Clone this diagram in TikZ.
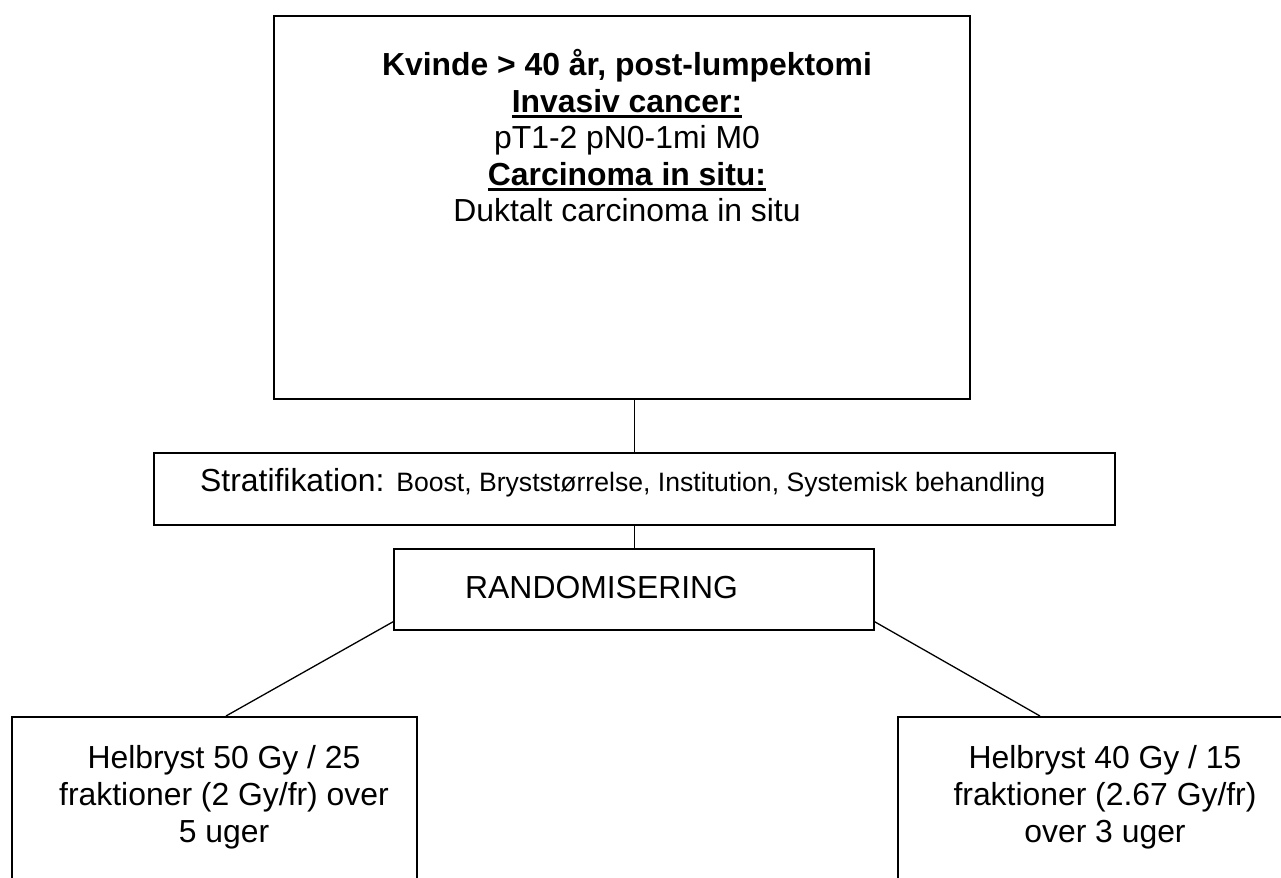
\documentclass[tikz,border=0pt]{standalone}
\usepackage{fontspec}
\setmainfont{Liberation Sans}
\newcommand\myul[1]{\setbox0\hbox{#1}\rlap{\rule[-6.3bp]{\wd0}{3bp}}\box0}
\tikzset{
  box/.style={draw, line width=1.8bp, inner sep=0, anchor=north west},
  conn/.style={line width=1.3bp},
  big/.style={font=\fontsize{32}{36.8}\selectfont, inner sep=0, anchor=base},
  smalltxt/.style={font=\fontsize{26.7}{30.7}\selectfont}
}
\begin{document}
\begin{tikzpicture}[x=1bp,y=-1bp]
\clip (0,0) rectangle (1281,878);
\fill[white] (0,0) rectangle (1281,878);
% boxes
\node[box, minimum width=696bp, minimum height=383bp] (top) at (273,15) {};
\node[box, minimum width=961bp, minimum height=72bp] (strat) at (153,452) {};
\node[box, minimum width=480bp, minimum height=81bp] (rand) at (393,548) {};
\node[box, minimum width=405bp, minimum height=250bp] (lbox) at (11,716) {};
\node[box, minimum width=420bp, minimum height=250bp] (rbox) at (897,716) {};
% top box text
\node[big] (t1) at (627,75) {\bfseries Kvinde > 40 år, post-lumpektomi};
\node[big] (t2) at (627,112) {\bfseries\myul{Invasiv cancer:}};
\node[big] (t3) at (627,148.5) {pT1-2 pN0-1mi M0};
\node[big] (t4) at (627,185) {\bfseries\myul{Carcinoma in situ:}};
\node[big] (t5) at (627,221.7) {Duktalt carcinoma in situ};
% stratification
\node[big, anchor=base west] (s1) at (200,491) {Stratifikation: {\fontsize{26.7}{30.7}\selectfont Boost, Bryststørrelse, Institution, Systemisk behandling}};
% randomisation
\node[big, anchor=base west] (r1) at (465,598.3) {RANDOMISERING};
% left arm
\node[big] (l1) at (224,768) {Helbryst 50 Gy / 25};
\node[big] (l2) at (224,805.5) {fraktioner (2 Gy/fr) over};
\node[big] (l3) at (224,842) {5 uger};
% right arm
\node[big] (q1) at (1105,768) {Helbryst 40 Gy / 15};
\node[big] (q2) at (1105,805.5) {fraktioner (2.67 Gy/fr)};
\node[big] (q3) at (1105,842) {over 3 uger};
% connectors
\draw[conn] (strat.north |- top.south) -- (strat.north);
\draw[conn] (strat.south) -- (strat.south |- rand.north);
\draw[conn] ([yshift=9bp]rand.south west) -- ([xshift=215bp]lbox.north west);
\draw[conn] ([yshift=9bp]rand.south east) -- ([xshift=143bp]rbox.north west);
\end{tikzpicture}
\end{document}
